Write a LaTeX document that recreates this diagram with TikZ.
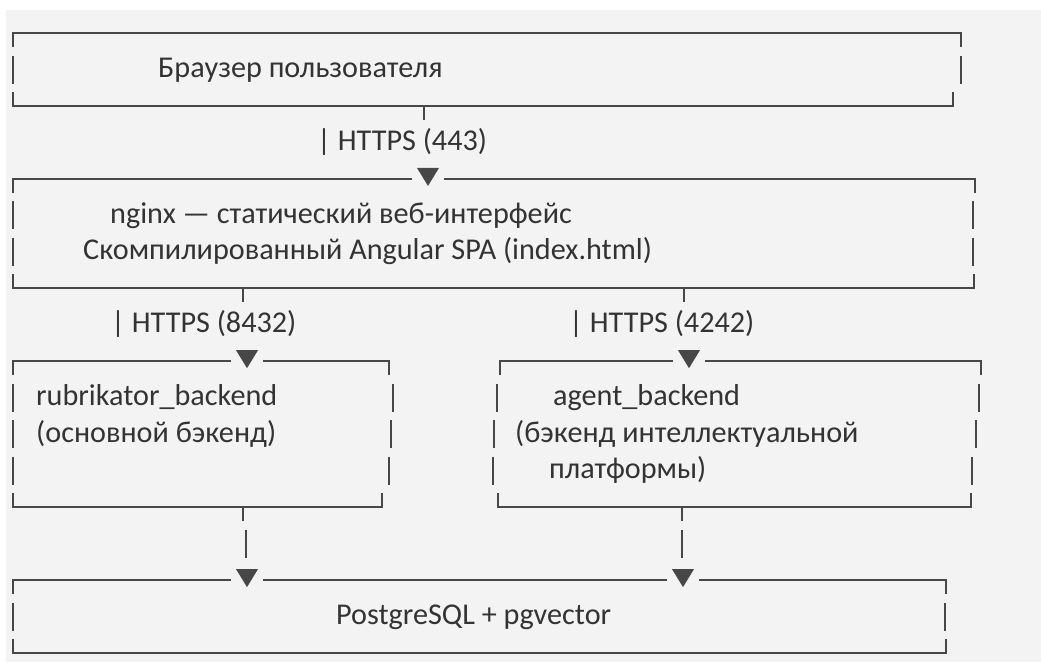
\documentclass[tikz,border=0pt]{standalone}
\usepackage{fontspec}
\setmainfont{Carlito}
\usetikzlibrary{calc}

\definecolor{linegray}{HTML}{474747}
\definecolor{textgray}{HTML}{333333}
\definecolor{bggray}{HTML}{F3F3F3}

\tikzset{
  frame/.style={draw=linegray, line width=1.8pt},
  txt/.style={anchor=base west, inner sep=0pt, text=textgray, font=\fontsize{30.2}{36}\selectfont},
  tip/.style={fill=linegray, draw=none}
}

\begin{document}
\begin{tikzpicture}[x=1pt, y=-1pt]

\useasboundingbox (0,0) rectangle (1041,662);
\fill[bggray] (6,10) rectangle (1041,662);

% browser
\node[txt] (browser) at (158,77) {Браузер пользователя};
\draw[frame] (13,47) -- (13,33) -- (961,33) -- (961,47);
\draw[frame] (13,55.5) -- (13,83.5);
\draw[frame] (961,55.5) -- (961,83.5);
\draw[frame] (13,92) -- (13,105.9) -- (953,105.9) -- (953,92);

\coordinate (s1) at (424,105.9);
\draw[frame] (s1) -- ++(0,14);
\node[txt] (l443) at (317,150) {| HTTPS (443)};

% nginx
\coordinate (t1) at (428,178.9);
\fill[tip] (t1) ++(-11,-11) -- ++(22,0) -- ++(-11,18) -- cycle;
\node[txt] (nginx1) at (110,223) {nginx — статический веб-интерфейс};
\node[txt] (nginx2) at (83,259) {Скомпилированный Angular SPA (index.html)};
\draw[frame] (13,192.9) -- (13,178.9) -- (412,178.9);
\draw[frame] (444,178.9) -- (975,178.9) -- (975,192.9);
\draw[frame] (13,201.4) -- (13,229.4);
\draw[frame] (13,237.8) -- (13,265.8);
\draw[frame] (973,201.4) -- (973,229.4);
\draw[frame] (973,237.8) -- (973,265.8);
\draw[frame] (13,274.3) -- (13,288.3) -- (974,288.3) -- (974,274.3);

\coordinate (s2) at (243,288.3);
\coordinate (s3) at (684,288.3);
\draw[frame] (s2) -- ++(0,14);
\draw[frame] (s3) -- ++(0,14);
\node[txt] (l8432) at (111,332) {| HTTPS (8432)};
\node[txt] (l4242) at (569,332) {| HTTPS (4242)};

% rubrikator_backend
\coordinate (t2) at (247,361.2);
\fill[tip] (t2) ++(-11,-11) -- ++(22,0) -- ++(-11,18) -- cycle;
\node[txt] (rub1) at (36,405) {rubrikator\_backend};
\node[txt] (rub2) at (36,442) {(основной бэкенд)};
\draw[frame] (13,375.2) -- (13,361.2) -- (231,361.2);
\draw[frame] (263,361.2) -- (389,361.2) -- (389,375.2);
\draw[frame] (13,383.7) -- (13,411.7);
\draw[frame] (13,420.2) -- (13,448.2);
\draw[frame] (13,456.6) -- (13,484.6);
\draw[frame] (393,383.7) -- (393,411.7);
\draw[frame] (391,420.2) -- (391,448.2);
\draw[frame] (389,456.6) -- (389,484.6);
\draw[frame] (13,493.1) -- (13,507.1) -- (382,507.1) -- (382,493.1);

% agent_backend
\coordinate (t3) at (689,361.2);
\fill[tip] (t3) ++(-11,-11) -- ++(22,0) -- ++(-11,18) -- cycle;
\node[txt] (agent1) at (553,405) {agent\_backend};
\node[txt] (agent2) at (515,442) {(бэкенд интеллектуальной};
\node[txt] (agent3) at (549,478) {платформы)};
\draw[frame] (500,375.2) -- (500,361.2) -- (673,361.2);
\draw[frame] (705,361.2) -- (981,361.2) -- (981,375.2);
\draw[frame] (497,383.7) -- (497,411.7);
\draw[frame] (494,420.2) -- (494,448.2);
\draw[frame] (493,456.6) -- (493,484.6);
\draw[frame] (979,383.7) -- (979,411.7);
\draw[frame] (976,420.2) -- (976,448.2);
\draw[frame] (972,456.6) -- (972,484.6);
\draw[frame] (498,493.1) -- (498,507.1) -- (971,507.1) -- (971,493.1);

\coordinate (s4) at (243,507.1);
\coordinate (s5) at (682,507.1);
\draw[frame] (s4) -- ++(0,14);
\draw[frame] (s5) -- ++(0,14);
\draw[frame] (246,529.6) -- (246,557.6);
\draw[frame] (682,529.6) -- (682,557.6);

% postgres
\coordinate (t4) at (247,580.1);
\coordinate (t5) at (683,580.1);
\fill[tip] (t4) ++(-11,-11) -- ++(22,0) -- ++(-11,18) -- cycle;
\fill[tip] (t5) ++(-11,-11) -- ++(22,0) -- ++(-11,18) -- cycle;
\node[txt] (pg) at (336,624) {PostgreSQL + pgvector};
\draw[frame] (13,594.1) -- (13,580.1) -- (231,580.1);
\draw[frame] (263,580.1) -- (667,580.1);
\draw[frame] (699,580.1) -- (946,580.1) -- (946,594.1);
\draw[frame] (13,602.5) -- (13,630.5);
\draw[frame] (945,602.5) -- (945,630.5);
\draw[frame] (13,639) -- (13,653) -- (946,653) -- (946,639);

\end{tikzpicture}
\end{document}
